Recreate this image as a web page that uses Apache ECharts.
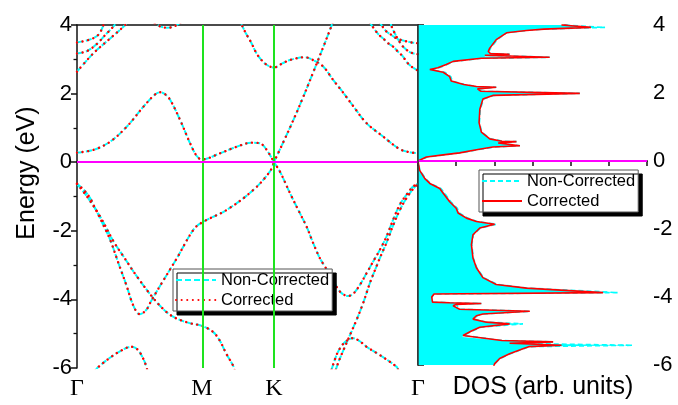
<!DOCTYPE html>
<html><head><meta charset="utf-8">
<script src="https://cdn.jsdelivr.net/npm/echarts@6/dist/echarts.min.js"></script>
<style>html,body{margin:0;padding:0;background:#fff}#c{width:678px;height:405px}</style>
</head><body><div id="c"></div>
<script>
// ---- k-path (units of 2π/a) ----
const kHighSym = [0, 0.5774, 0.9107, 1.5774];
const kLabels = ['Γ', 'M', 'K', 'Γ'];
const energyRange = [-6, 4];
const energyTickStep = 2;
const dosRange = [0, 6];

// ---- band structure: [k, E(eV)] ----
const bandC1 = [[0,0.28],[0.0767,0.36],[0.1538,0.6],[0.2309,1.04],[0.3076,1.62],[0.36,1.97],[0.3847,2.04],[0.408,1.98],[0.4308,1.82],[0.477,1.23],[0.5232,0.55],[0.5541,0.18],[0.5774,0.08],[0.6617,0.26],[0.7388,0.45],[0.8081,0.57],[0.8464,0.55],[0.8774,0.36],[0.9107,0]];
const bandC2 = [[0.9107,0],[0.954,0.58],[1.0002,1.22],[1.0464,1.9],[1.0926,2.62],[1.1387,3.35],[1.1775,3.98],[1.19,4.2]];
const bandC3 = [[0.7388,4.25],[0.7619,4.0],[0.7818,3.75],[0.8072,3.47],[0.828,3.2],[0.8464,3.03],[0.8774,2.84],[0.9107,2.76],[0.95,2.88],[0.985,2.98],[1.0542,3.06],[1.0912,2.98],[1.1387,2.79],[1.1849,2.4],[1.2311,2.03],[1.2773,1.64],[1.3391,1.14],[1.4158,0.75],[1.493,0.38],[1.5391,0.29],[1.5774,0.26]];
const bandV1 = [[0,-0.63],[0.0307,-0.8],[0.0614,-1.05],[0.0767,-1.25],[0.1154,-1.75],[0.1538,-2.27],[0.1921,-2.95],[0.2309,-3.63],[0.254,-4.08],[0.2771,-4.38],[0.29,-4.43],[0.32,-4.31],[0.3385,-4.1],[0.3583,-3.88],[0.3847,-3.6],[0.4618,-2.8],[0.5384,-1.97],[0.5774,-1.76],[0.6927,-1.39],[0.8155,-0.81],[0.8926,-0.27],[0.9107,0]];
const bandV1b = [[0.9107,0],[0.9384,-0.27],[0.985,-0.9],[1.0312,-1.49],[1.0621,-1.88],[1.0926,-2.36],[1.1235,-2.8],[1.1466,-3.04],[1.1849,-3.43],[1.2158,-3.77],[1.2542,-3.9],[1.2773,-3.84],[1.3082,-3.58],[1.3391,-3.24],[1.3696,-2.9],[1.4006,-2.56],[1.4315,-2.17],[1.462,-1.68],[1.493,-1.24],[1.5239,-0.95],[1.5544,-0.71],[1.5774,-0.63]];
const bandV2 = [[0,-0.63],[0.0462,-1.0],[0.1076,-1.59],[0.169,-2.31],[0.2152,-2.75],[0.2771,-3.33],[0.3537,-3.97],[0.4124,-4.36],[0.4585,-4.55],[0.52,-4.69],[0.5774,-4.77],[0.628,-4.94],[0.6585,-5.18],[0.6894,-5.57],[0.7204,-5.91],[0.731,-6.1]];
const bandV3 = [[1.1974,-6.05],[1.2081,-5.85],[1.2311,-5.5],[1.262,-5.05],[1.293,-4.6],[1.3235,-4.11],[1.3544,-3.53],[1.3853,-3.04],[1.4006,-2.8],[1.4315,-2.35],[1.462,-1.85],[1.493,-1.4],[1.5239,-1.05],[1.5544,-0.78],[1.5774,-0.63]];
const bandH1 = [[0.0845,-6.08],[0.097,-5.98],[0.1505,-5.71],[0.1967,-5.52],[0.2507,-5.38],[0.2817,-5.47],[0.3048,-5.71],[0.3154,-5.86],[0.3246,-6.05]];
const bandH2 = [[1.1775,-6.05],[1.1849,-5.9],[1.205,-5.56],[1.2311,-5.3],[1.262,-5.15],[1.2773,-5.13],[1.3082,-5.22],[1.3391,-5.38],[1.4006,-5.62],[1.4777,-5.96],[1.4851,-6.05]];
const bandU1 = [[0,3.49],[0.0614,3.58],[0.0997,3.72],[0.1228,4.0],[0.13,4.1]];
const bandU2 = [[0,3.17],[0.0462,3.24],[0.0924,3.45],[0.1307,3.71],[0.1616,3.91],[0.1769,4.02]];
const bandU3 = [[0,2.64],[0.0767,3.18],[0.1538,3.61],[0.223,4.0],[0.235,4.1]];
const bandU4 = [[0.3385,4.15],[0.3847,3.96],[0.417,3.92],[0.4493,3.96],[0.4955,4.15]];
const bandR1 = [[1.4,4.08],[1.4084,4.0],[1.4315,3.81],[1.4546,3.71],[1.4777,3.61],[1.5082,3.55],[1.547,3.49],[1.5774,3.47]];
const bandR2 = [[1.45,4.1],[1.4546,3.97],[1.4705,3.75],[1.493,3.5],[1.516,3.32],[1.547,3.19],[1.5774,3.15]];
const bandR3 = [[1.355,4.07],[1.3622,4.0],[1.3927,3.74],[1.4158,3.61],[1.4389,3.47],[1.462,3.37],[1.4851,3.22],[1.5082,3.08],[1.5239,2.93],[1.547,2.79],[1.5774,2.67]];

const bandsNonCorrected = [bandC1,bandC2,bandC3,bandV1,bandV1b,bandV2,bandV3,bandH1,bandH2,bandU1,bandU2,bandU3,bandU4,bandR1,bandR2,bandR3];
const bandsCorrected = bandsNonCorrected; // indistinguishable at this scale

// ---- DOS: energy (eV) and DOS (arb. units) ----
const dosEnergy = [4.05,4.0,3.93,3.88,3.84,3.77,3.57,3.32,3.22,3.16,3.14,3.11,3.07,3.05,3.02,2.93,2.84,2.74,2.69,2.61,2.48,2.35,2.25,2.19,2.17,2.12,2.05,1.99,1.93,1.82,1.52,1.13,0.85,0.65,0.58,0.57,0.53,0.45,0.41,0.34,0.24,0.18,0.12,0.0,-0.27,-0.52,-0.66,-0.81,-0.95,-1.2,-1.39,-1.53,-1.68,-1.78,-1.86,-1.97,-2.17,-2.46,-2.85,-3.14,-3.43,-3.63,-3.74,-3.87,-3.91,-4.0,-4.15,-4.17,-4.19,-4.22,-4.26,-4.36,-4.42,-4.5,-4.55,-4.65,-4.74,-4.79,-4.89,-5.0,-5.13,-5.18,-5.28,-5.32,-5.36,-5.42,-5.46,-5.52,-5.67,-5.81,-5.96,-6.05];
const dosCorrected = [3.95,3.76,4.53,3.3,2.84,2.32,2.05,1.88,1.84,1.9,2.4,1.75,1.75,3.45,1.66,0.92,0.74,0.52,0.31,0.66,0.83,0.87,1.2,1.53,2.05,1.56,1.65,4.24,1.96,1.7,1.62,1.6,1.66,1.88,2.2,2.58,2.1,2.67,1.96,1.57,1.09,0.66,0.22,0.0,0.04,0.18,0.31,0.57,0.66,0.83,1.0,1.05,1.27,1.53,2.01,1.62,1.44,1.4,1.44,1.53,1.7,2.05,2.84,4.85,0.42,0.36,0.38,0.83,1.66,1.0,0.92,1.09,2.93,1.7,1.53,1.44,1.79,2.4,1.62,1.4,1.18,1.14,2.2,3.54,2.4,3.76,2.9,2.75,2.4,2.14,2.01,1.98];
const dosNonCorrected = [3.95,3.8,4.9,3.3,2.84,2.32,2.08,1.9,1.86,1.9,2.4,1.75,1.75,3.45,1.66,0.95,0.76,0.55,0.34,0.7,0.86,0.9,1.22,1.55,2.05,1.58,1.67,4.24,1.98,1.72,1.63,1.61,1.67,1.9,2.22,2.58,2.1,2.67,1.98,1.6,1.12,0.7,0.25,0.0,0.05,0.2,0.33,0.6,0.7,0.86,1.03,1.08,1.3,1.55,2.05,1.64,1.45,1.41,1.45,1.54,1.72,2.08,2.9,5.24,0.42,0.36,0.4,0.83,1.66,1.0,0.95,1.1,2.93,1.7,1.55,1.46,1.8,2.75,1.64,1.42,1.2,1.16,2.2,3.54,2.4,5.63,2.9,2.77,2.42,2.15,2.02,1.98];

// ---- styles ----
const SANS = "'Liberation Sans', Arial, sans-serif";
const SERIF = "'Liberation Serif', 'Times New Roman', serif";
const CYAN = '#00ffff', RED = '#ff0000', MAGENTA = '#ff00ff', GREEN = '#1ee31e', AXIS = '#111';

const chart = echarts.init(document.getElementById('c'), null, {renderer: 'canvas'});

const kFmt = v => { const i = kHighSym.findIndex(p => Math.abs(p - v) < 1e-6); return i >= 0 ? kLabels[i] : ''; };

const series = [];
bandsNonCorrected.forEach((b, i) => series.push({
  type: 'line', name: 'Non-Corrected', xAxisIndex: 0, yAxisIndex: 0, data: b,
  smooth: 0.35, symbol: 'none', z: 2, silent: true,
  lineStyle: {color: CYAN, width: 2, type: [6, 3]},
  markLine: i === 0 ? {silent: true, symbol: 'none', label: {show: false}, animation: false,
    lineStyle: {color: GREEN, width: 2, type: 'solid'},
    data: [{xAxis: kHighSym[1]}, {xAxis: kHighSym[2]}]} : undefined
}));
bandsCorrected.forEach((b, i) => series.push({
  type: 'line', name: 'Corrected', xAxisIndex: 0, yAxisIndex: 0, data: b,
  smooth: 0.35, symbol: 'none', z: 3, silent: true,
  lineStyle: {color: RED, width: 2.4, type: [0.1, 5.5], cap: 'round'},
  markLine: i === bandsCorrected.length - 1 ? {silent: true, symbol: 'none', label: {show: false}, animation: false,
    lineStyle: {color: MAGENTA, width: 2, type: 'solid'}, data: [{yAxis: 0}]} : undefined
}));

// DOS fill (area between DOS=0 and non-corrected curve)
series.push({
  type: 'custom', name: 'dosFill', xAxisIndex: 1, yAxisIndex: 1, clip: true, silent: true, z: 1,
  data: dosEnergy.map((e, i) => [dosNonCorrected[i], e]),
  renderItem: (params, api) => {
    if (params.dataIndex !== 0) return null;
    const pts = dosEnergy.map((e, i) => api.coord([dosNonCorrected[i], e]));
    pts.unshift(api.coord([0, dosEnergy[0]]));
    pts.push(api.coord([0, dosEnergy[dosEnergy.length - 1]]));
    return {type: 'polygon', shape: {points: pts}, style: {fill: CYAN, stroke: null}};
  }
});
series.push({
  type: 'line', name: 'Non-Corrected DOS', xAxisIndex: 1, yAxisIndex: 1, silent: true,
  data: dosEnergy.map((e, i) => [dosNonCorrected[i], e]), symbol: 'none', z: 2,
  lineStyle: {color: CYAN, width: 1.6, type: [5, 3]}
});
series.push({
  type: 'line', name: 'Corrected DOS', xAxisIndex: 1, yAxisIndex: 1, silent: true,
  data: dosEnergy.map((e, i) => [dosCorrected[i], e]), symbol: 'none', z: 3,
  lineStyle: {color: RED, width: 1.6},
  markLine: {silent: true, symbol: 'none', label: {show: false}, animation: false,
    lineStyle: {color: MAGENTA, width: 2, type: 'solid'}, data: [{yAxis: 0}]}
});

const lineAx = {show: true, lineStyle: {color: AXIS, width: 1.5}};
const legendCommon = {
  orient: 'vertical', itemWidth: 40, itemHeight: 14, itemGap: 2, itemStyle: {opacity: 0},
  backgroundColor: '#fff', borderColor: '#555', borderWidth: 1,
  shadowColor: '#000', shadowOffsetX: 4, shadowOffsetY: 4, shadowBlur: 0,
  padding: [2, 3, 2, 2], selectedMode: false,
  textStyle: {fontFamily: SANS, fontSize: 16.5, color: '#000', lineHeight: 18}
};

chart.setOption({
  animation: false,
  backgroundColor: '#fff',
  grid: [
    {left: 77, right: 260, top: 25, bottom: 37},
    {left: 418, right: 31, top: 25, bottom: 37}
  ],
  xAxis: [
    {gridIndex: 0, type: 'value', min: kHighSym[0], max: kHighSym[3], position: 'bottom',
      axisLine: lineAx, axisTick: {show: false}, splitLine: {show: false},
      axisLabel: {customValues: kHighSym, formatter: kFmt, showMinLabel: true, showMaxLabel: true,
        fontFamily: SERIF, fontSize: 24, color: '#000', margin: 9}},
    {gridIndex: 1, type: 'value', min: dosRange[0], max: dosRange[1], interval: 1, position: 'bottom',
      axisLine: lineAx, axisTick: {show: true, length: 5, lineStyle: {color: AXIS, width: 1.5}},
      axisLabel: {show: false}, splitLine: {show: false},
      name: 'DOS (arb. units)', nameLocation: 'middle', nameGap: 10,
      nameTextStyle: {fontFamily: SANS, fontSize: 25, color: '#000', verticalAlign: 'top', padding: [0, 0, 0, 21]}},
    {gridIndex: 0, type: 'value', min: kHighSym[0], max: kHighSym[3], position: 'top',
      axisLine: lineAx, axisTick: {show: false}, axisLabel: {show: false}, splitLine: {show: false}},
    {gridIndex: 1, type: 'value', min: dosRange[0], max: dosRange[1], position: 'top',
      axisLine: lineAx, axisTick: {show: false}, axisLabel: {show: false}, splitLine: {show: false}}
  ],
  yAxis: [
    {gridIndex: 0, type: 'value', min: energyRange[0], max: energyRange[1], interval: energyTickStep, position: 'left',
      axisLine: lineAx, axisTick: {show: true, length: 6, lineStyle: {color: AXIS, width: 1.5}},
      minorTick: {show: true, splitNumber: 2, length: 3.5, lineStyle: {color: AXIS, width: 1.3}},
      axisLabel: {fontFamily: SANS, fontSize: 22, color: '#000', margin: 5}, splitLine: {show: false},
      name: 'Energy (eV)', nameLocation: 'middle', nameGap: 37,
      nameTextStyle: {fontFamily: SANS, fontSize: 25, color: '#000', padding: [0, 0, 0, 47]}},
    {gridIndex: 1, type: 'value', min: energyRange[0], max: energyRange[1], interval: energyTickStep, position: 'right',
      axisLine: lineAx, axisTick: {show: true, length: 6, lineStyle: {color: AXIS, width: 1.5}},
      minorTick: {show: true, splitNumber: 2, length: 3.5, lineStyle: {color: AXIS, width: 1.3}},
      axisLabel: {fontFamily: SANS, fontSize: 22, color: '#000', margin: 6}, splitLine: {show: false}},
    {gridIndex: 1, type: 'value', min: energyRange[0], max: energyRange[1], position: 'left', z: 10,
      axisLine: {show: true, lineStyle: {color: '#333', width: 1.5}}, axisTick: {show: false},
      axisLabel: {show: false}, splitLine: {show: false}}
  ],
  legend: [
    Object.assign({}, legendCommon, {left: 173, top: 269, data: ['Non-Corrected', 'Corrected']}),
    Object.assign({}, legendCommon, {left: 479, top: 170, data: ['Non-Corrected DOS', 'Corrected DOS'],
      formatter: n => n.replace(' DOS', '')})
  ],
  series: series
});
</script></body></html>
